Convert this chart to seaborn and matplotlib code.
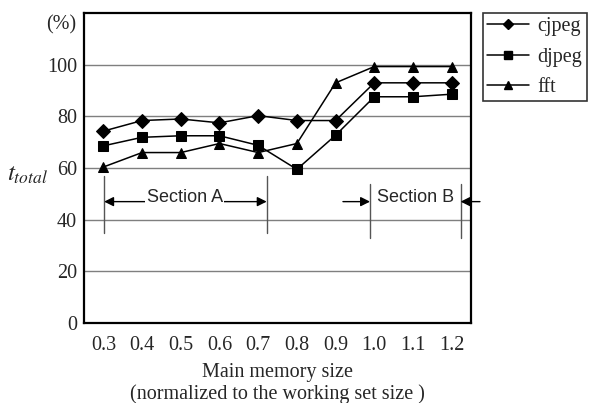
import numpy as np
import pandas as pd
import matplotlib
matplotlib.use("Agg")
import matplotlib.pyplot as plt
from matplotlib.lines import Line2D
import seaborn as sns

# memory size (normalized to working set size)
sizes = ["0.3", "0.4", "0.5", "0.6", "0.7", "0.8", "0.9", "1.0", "1.1", "1.2"]
cjpeg = [74.3, 78.4, 79.0, 77.5, 80.3, 78.4, 78.4, 93.0, 93.0, 93.0]
djpeg = [68.6, 71.9, 72.5, 72.5, 68.8, 59.5, 72.7, 87.6, 87.6, 88.6]
fft = [60.4, 66.0, 66.0, 69.5, 66.0, 69.5, 93.0, 99.3, 99.3, 99.3]

df = pd.DataFrame({
    "size": sizes * 3,
    "t": cjpeg + djpeg + fft,
    "prog": ["cjpeg"] * 10 + ["djpeg"] * 10 + ["fft"] * 10,
})

sns.set_style("white")
plt.rcParams["font.family"] = ["Liberation Serif", "DejaVu Serif"]
plt.rcParams["mathtext.fontset"] = "stix"
FS = 14.5

fig = plt.figure(figsize=(6.01, 4.03), dpi=100)
ax = fig.add_axes([0.1398, 0.1985, 0.644, 0.769])

for y in [20, 40, 60, 80, 100]:
    ax.axhline(y, color="#7f7f7f", lw=1, zorder=0)

sns.lineplot(data=df, x="size", y="t", style="prog", markers={"cjpeg": "D", "djpeg": "s", "fft": "^"},
             dashes=False, color="black", lw=1.1, markersize=7, markeredgecolor="black",
             ax=ax, legend=False, sort=False)

ax.set_xlim(-0.5, 9.5)
ax.set_ylim(0, 120)
ax.set_yticks([0, 20, 40, 60, 80, 100])
ax.set_xticks(np.arange(10))
ax.set_xticklabels(sizes)
ax.set_xticks(np.arange(0.5, 9.5, 1), minor=True)
ax.tick_params(axis="x", which="major", length=0, labelsize=FS, pad=9)
ax.tick_params(axis="x", which="minor", direction="in", length=5, width=1, color="#555555")
ax.tick_params(axis="y", length=0, labelsize=FS, pad=5)
ax.set_xlabel("Main memory size\n(normalized to the working set size )", fontsize=FS, labelpad=6,
              linespacing=1.15)
ax.set_ylabel("")
for s in ax.spines.values():
    s.set_color("black")
    s.set_linewidth(1.6)

fig.text(0.102, 0.938, "(%)", fontsize=FS, ha="center", va="center")
fig.text(0.046, 0.565, r"$t_{total}$", fontsize=18, ha="center", va="center")

# section markers
for x0, y0, y1 in [(0.02, 57, 35), (4.22, 57, 35), (6.89, 54, 33), (9.23, 54, 33)]:
    ax.plot([x0, x0], [y0, y1], color="#555555", lw=1)
arrow = dict(arrowstyle="-|>", color="black", lw=1, mutation_scale=14, shrinkA=0, shrinkB=0)
ax.annotate("", xy=(0.02, 47), xytext=(2.1, 47), arrowprops=arrow)
ax.annotate("", xy=(4.22, 47), xytext=(2.1, 47), arrowprops=arrow)
ax.text(2.1, 48.5, "Section A", fontsize=13, family="Liberation Sans", ha="center", va="center",
        bbox=dict(facecolor="white", edgecolor="none", pad=1))
ax.annotate("", xy=(6.89, 47), xytext=(6.19, 47), arrowprops=arrow)
ax.annotate("", xy=(9.23, 47), xytext=(9.73, 47), arrowprops=arrow, annotation_clip=False)
ax.text(8.06, 48.5, "Section B", fontsize=13, family="Liberation Sans", ha="center", va="center")

# legend
handles = [Line2D([], [], color="black", lw=1.1, marker=m, markersize=5.5) for m in ["D", "s", "^"]]
leg = fig.legend(handles, ["cjpeg", "djpeg", "fft"], loc="upper left", bbox_to_anchor=(0.803, 0.968),
                 frameon=True, fancybox=False, fontsize=FS, handlelength=2.1, handletextpad=0.4,
                 labelspacing=0.55, borderpad=0.22, borderaxespad=0)
leg.get_frame().set_edgecolor("black")
leg.get_frame().set_linewidth(1.2)

fig.savefig("out.png", dpi=100)
